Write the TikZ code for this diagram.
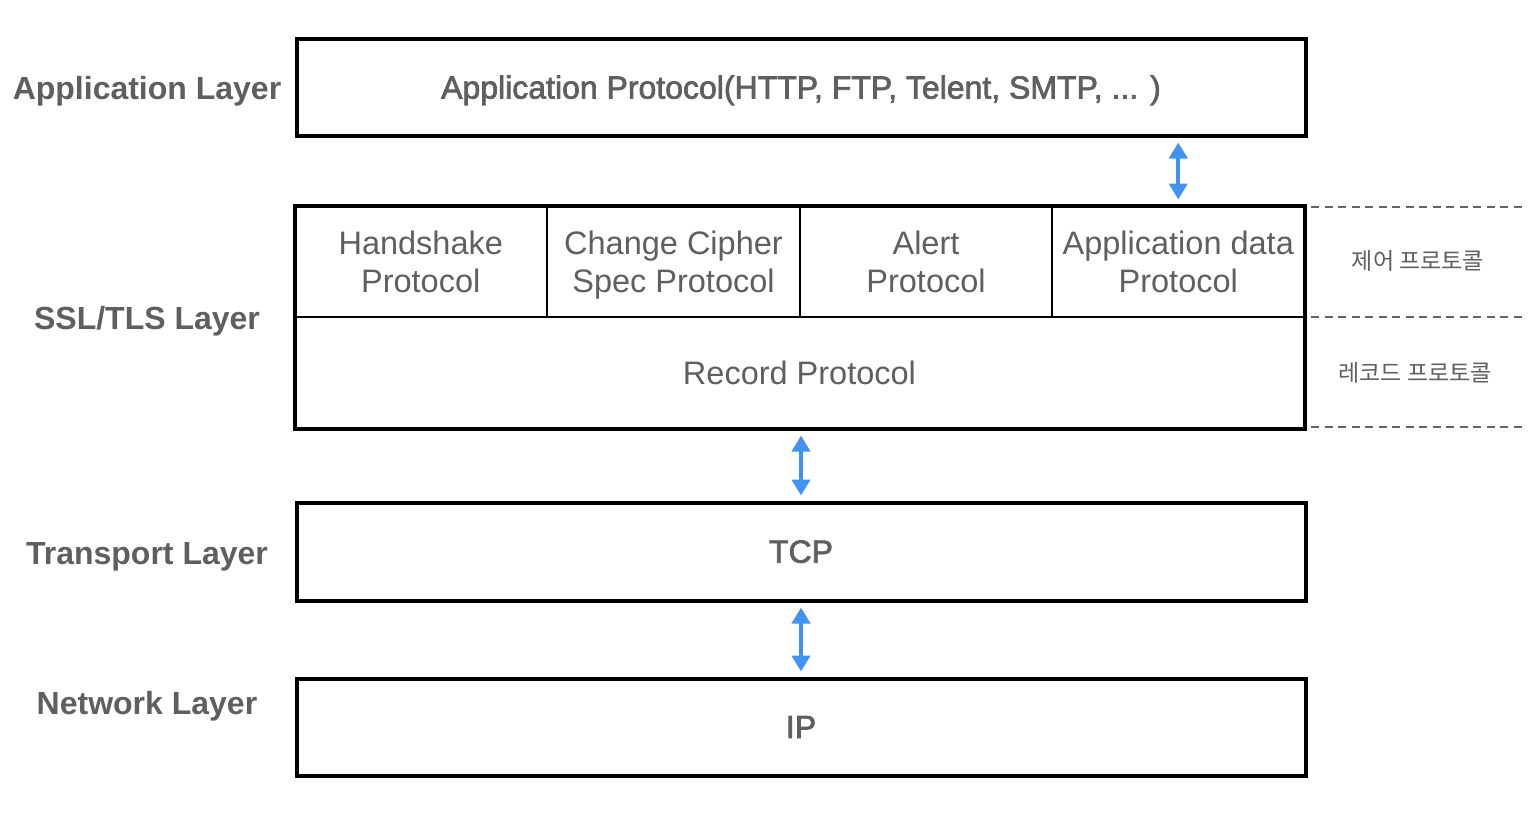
\documentclass[tikz,border=0pt]{standalone}
\usepackage{fontspec}
\setmainfont{Liberation Sans}
\newfontfamily\medfont[FakeBold=2.2]{Liberation Sans}
\newfontfamily\krfont{Noto Sans CJK KR}
\usetikzlibrary{arrows.meta}
\definecolor{txtgray}{RGB}{95,95,95}
\definecolor{dashgray}{RGB}{100,100,100}
\definecolor{linkblue}{RGB}{66,146,240}
\tikzset{
  layerbox/.style={draw=black, line width=4pt, inner sep=0pt, text=txtgray,
    text depth=0pt},
  cellbox/.style={draw=black, line width=2pt, inner sep=0pt, text=txtgray,
    align=center, text depth=0pt, font=\fontsize{32.5}{38}\selectfont},
  layerlabel/.style={text=txtgray, text depth=0pt,
    font=\bfseries\fontsize{32}{36}\selectfont},
  sidelabel/.style={text=txtgray, font=\krfont\fontsize{23}{26}\selectfont},
  sep line/.style={draw=dashgray, line width=2pt, dash pattern=on 8pt off 5.5pt},
  link/.style={draw=linkblue, line width=4pt,
    {Triangle[width=18pt,length=16pt]}-{Triangle[width=18pt,length=16pt]},
    shorten <=5pt, shorten >=5pt}
}
\begin{document}
\begin{tikzpicture}[x=1pt, y=-1pt]
  \useasboundingbox (0,0) rectangle (1538,814);

  % application layer
  \node[layerbox, minimum width=1009pt, minimum height=97pt,
        font=\medfont\fontsize{32}{36}\selectfont] (app) at (801,87)
        {Application Protocol(HTTP, FTP, Telent, SMTP, ... )};

  % SSL/TLS layer: four protocols over the record protocol
  \node[cellbox, minimum width=252.5pt, minimum height=111.5pt] (hs) at (420.75,261.25)
        {Handshake\\Protocol};
  \node[cellbox, minimum width=253pt, minimum height=111.5pt] (ccs) at (673.5,261.25)
        {Change Cipher\\Spec Protocol};
  \node[cellbox, minimum width=252pt, minimum height=111.5pt] (alert) at (926,261.25)
        {Alert\\Protocol};
  \node[cellbox, minimum width=252.5pt, minimum height=111.5pt] (adata) at (1178.25,261.25)
        {Application data\\Protocol};
  \node[cellbox, minimum width=1010pt, minimum height=111.5pt] (rec) at (799.5,372.75)
        {Record Protocol};
  \node[draw=black, line width=4pt, minimum width=1010pt, minimum height=223pt,
        inner sep=0pt] (ssl) at (799.5,317) {};

  % transport and network layers
  \node[layerbox, minimum width=1009pt, minimum height=98pt,
        font=\medfont\fontsize{32}{36}\selectfont] (tcp) at (801,551.5) {TCP};
  \node[layerbox, minimum width=1009pt, minimum height=97pt,
        font=\medfont\fontsize{32}{36}\selectfont] (ip) at (801,727) {IP};

  % layer names
  \node[layerlabel] (lapp) at (147,88) {Application Layer};
  \node[layerlabel] (lssl) at (147,318) {SSL/TLS Layer};
  \node[layerlabel] (ltcp) at (147,553) {Transport Layer};
  \node[layerlabel] (lnet) at (147,703) {Network Layer};

  % dashed separators and protocol group names
  \coordinate (d1a) at (1311,207);  \coordinate (d1b) at (1522,207);
  \coordinate (d2a) at (1311,317);  \coordinate (d2b) at (1522,317);
  \coordinate (d3a) at (1311,427);  \coordinate (d3b) at (1522,427);
  \draw[sep line] (d1a) -- (d1b);
  \draw[sep line] (d2a) -- (d2b);
  \draw[sep line] (d3a) -- (d3b);
  \node[sidelabel] (ctrl) at (1418,261) {제어 프로토콜};
  \node[sidelabel] (recl) at (1415,373) {레코드 프로토콜};

  % data exchange between layers
  \draw[link] (app.south -| adata.north) -- (adata.north);
  \draw[link] (ssl.south -| tcp.north) -- (tcp.north);
  \draw[link] (tcp.south) -- (ip.north);
\end{tikzpicture}
\end{document}
